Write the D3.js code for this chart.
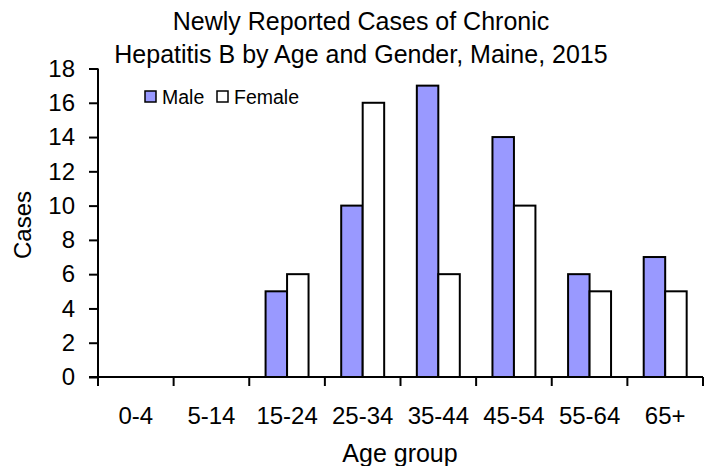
<!DOCTYPE html>
<html><head><meta charset="utf-8">
<script src="https://cdn.jsdelivr.net/npm/d3@7/dist/d3.min.js"></script>
<style>body{margin:0;background:#fff;}svg{display:block;font-family:"Liberation Sans",Arial,sans-serif;}</style>
</head><body><svg id="c" width="704" height="466"></svg>
<script>
const categories = ["0-4","5-14","15-24","25-34","35-44","45-54","55-64","65+"];
const male = [0,0,5,10,17,14,6,7];
const female = [0,0,6,16,6,10,5,5];
const seriesNames = ["Male","Female"];
const yTicks = [0,2,4,6,8,10,12,14,16,18];
const titleLines = ["Newly Reported Cases of Chronic","Hepatitis B by Age and Gender, Maine, 2015"];

const FF = "Liberation Sans, Arial, sans-serif";
const svg = d3.select("#c");
const m = {l:98, r:1, t:68.5, b:89};
const W = 704, H = 466;
const x = d3.scaleBand().domain(categories).range([m.l, W - m.r]);
const inner = d3.scaleBand().domain(seriesNames).range([0, x.bandwidth()]).paddingInner(0).paddingOuter(0.76);
const y = d3.scaleLinear().domain([0,18]).range([377, m.t]);

const data = categories.map((c,i)=>({c, vals:[{s:"Male",v:male[i]},{s:"Female",v:female[i]}]}));
const colors = {Male:"#9999FF", Female:"#FFFFFF"};

svg.append("g").selectAll("g").data(data).join("g")
  .attr("transform", d=>`translate(${x(d.c)},0)`)
  .selectAll("rect").data(d=>d.vals.filter(e=>e.v>0)).join("rect")
  .attr("x", d=>inner(d.s)).attr("width", inner.bandwidth())
  .attr("y", d=>y(d.v)).attr("height", d=>y(0)-y(d.v))
  .attr("fill", d=>colors[d.s]).attr("stroke","#000").attr("stroke-width",2);

// y axis
const ya = svg.append("g").attr("transform",`translate(${m.l},0)`)
  .call(d3.axisLeft(y).tickValues(yTicks).tickSize(9).tickPadding(14));
ya.select(".domain").attr("d",`M0,${y(18)}V${y(0)}`).attr("stroke-width",2);
ya.selectAll(".tick line").attr("stroke-width",2);
ya.selectAll("text").attr("font-size",24).attr("fill","#000").attr("font-family",FF);

// x axis
const xa = svg.append("g").attr("transform",`translate(0,${y(0)})`)
  .call(d3.axisBottom(x).tickSize(0).tickPadding(30));
xa.select(".domain").attr("d",`M${m.l-9},0H${W-m.r}`).attr("stroke-width",2);
xa.selectAll("text").attr("font-size",24).attr("fill","#000").attr("font-family",FF);
// category boundary ticks
const bounds = categories.map(c=>x(c)).concat([x(categories[categories.length-1])+x.bandwidth()]);
svg.append("g").selectAll("line").data(bounds).join("line")
  .attr("x1",d=>d).attr("x2",d=>d).attr("y1",y(0)).attr("y2",y(0)+9)
  .attr("stroke","#000").attr("stroke-width",2);

// title
svg.append("text").attr("x",361).attr("y",30).attr("text-anchor","middle")
  .attr("font-size",25).selectAll("tspan").data(titleLines).join("tspan")
  .attr("x",361).attr("dy",(d,i)=>i?33:0).text(d=>d);

// axis titles
svg.append("text").attr("transform","translate(31,225) rotate(-90)").attr("text-anchor","middle")
  .attr("font-size",24).text("Cases");
svg.append("text").attr("x",400).attr("y",462).attr("text-anchor","middle")
  .attr("font-size",25).text("Age group");

// legend
const lg = svg.append("g");
const legendX = [145,217];
seriesNames.forEach((s,i)=>{
  lg.append("rect").attr("x",legendX[i]).attr("y",91).attr("width",11).attr("height",11)
    .attr("fill",colors[s]).attr("stroke","#000").attr("stroke-width",1.5);
  lg.append("text").attr("x",legendX[i]+17).attr("y",103.5).attr("font-size",19.5).text(s);
});
</script></body></html>
